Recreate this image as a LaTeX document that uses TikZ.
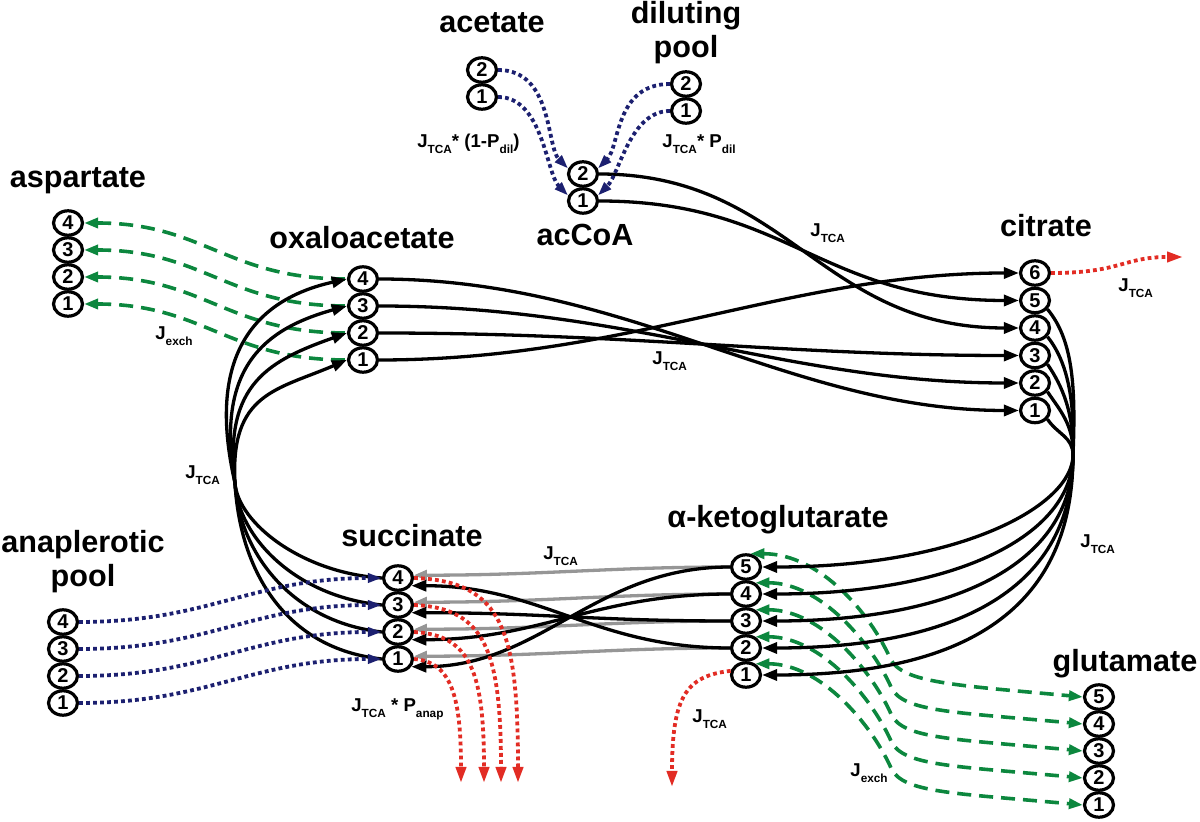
\documentclass[tikz,border=0pt]{standalone}
\usepackage{fontspec}
\setmainfont{Liberation Sans}
\usetikzlibrary{shapes.geometric,arrows.meta,calc}
\definecolor{cgrn}{RGB}{12,135,62}
\definecolor{cnvy}{RGB}{28,32,112}
\definecolor{crd}{RGB}{226,44,36}
\definecolor{cgry}{RGB}{150,150,150}
\newcommand{\lsub}[1]{\raisebox{-3pt}{\fontsize{5.9}{7}\selectfont #1}}
\begin{document}
\begin{tikzpicture}[x=0.5pt,y=-0.5pt,
  cn/.style={ellipse,draw,line width=1.6pt,minimum width=14.5pt,minimum height=12.2pt,inner sep=0pt,font=\fontsize{10}{10}\selectfont\bfseries},
  lbl/.style={font=\fontsize{15.3}{17}\selectfont\bfseries,inner sep=0pt,align=center},
  jl/.style={font=\fontsize{9.3}{11}\selectfont\bfseries,inner sep=0pt,anchor=base west},
  blk/.style={line width=1.65pt,-{Triangle[length=7.5pt,width=5.5pt]}},
  gryl/.style={line width=1.65pt,cgry,-{Triangle[length=6.5pt,width=5pt]}},
  grnb/.style={line width=1.8pt,cgrn,dash pattern=on 7pt off 4pt,{Triangle[length=7pt,width=5pt]}-{Triangle[length=7pt,width=5pt]}},
  grnl/.style={line width=1.8pt,cgrn,dash pattern=on 7pt off 4pt,{Triangle[length=7pt,width=5pt]}-},
  nvyl/.style={line width=1.9pt,cnvy,dash pattern=on 1.9pt off 1.6pt,-{Triangle[length=7pt,width=4.5pt]}},
  rdl/.style={line width=1.9pt,crd,dash pattern=on 1.9pt off 1.6pt,-{Triangle[length=8pt,width=5pt]}}
]
\useasboundingbox (0,0) rectangle (1200,822);

% ---------- carbon nodes ----------
\node[cn] (acet2) at (482,70) {2};
\node[cn] (acet1) at (482,97) {1};
\node[cn] (dil2) at (686,84) {2};
\node[cn] (dil1) at (686,111) {1};
\node[cn] (acc2) at (583,174) {2};
\node[cn] (acc1) at (583,201) {1};
\foreach \i/\y in {4/223,3/250,2/277,1/304} \node[cn] (asp\i) at (68,\y) {\i};
\foreach \i/\y in {4/279,3/306,2/333,1/360} \node[cn] (oaa\i) at (363,\y) {\i};
\foreach \i/\y in {6/273,5/300.5,4/328,3/355.5,2/383,1/410.5} \node[cn] (cit\i) at (1035,\y) {\i};
\foreach \i/\y in {4/578,3/605,2/632,1/659} \node[cn] (suc\i) at (398,\y) {\i};
\foreach \i/\y in {5/567,4/594,3/621,2/648,1/675} \node[cn] (akg\i) at (746,\y) {\i};
\foreach \i/\y in {5/697,4/724,3/751,2/778,1/805} \node[cn] (glu\i) at (1099,\y) {\i};
\foreach \i/\y in {4/622,3/649,2/676,1/703} \node[cn] (ana\i) at (63,\y) {\i};

% ---------- pool labels ----------
\node[lbl,anchor=base] (tAcet) at (492,33) {acetate};
\node[lbl] (tDil) at (686,33) {diluting\\pool};
\node[lbl,anchor=base] (tAcc) at (585,246) {acCoA};
\node[lbl,anchor=base] (tAsp) at (78,188) {aspartate};
\node[lbl,anchor=base] (tOaa) at (362,249) {oxaloacetate};
\node[lbl,anchor=base] (tCit) at (1046,237) {citrate};
\node[lbl,anchor=base] (tSuc) at (412,547) {succinate};
\node[lbl,anchor=base] (tAkg) at (778,528) {α-ketoglutarate};
\node[lbl,anchor=base] (tGlu) at (1125,672) {glutamate};
\node[lbl] (tAna) at (83,562) {anaplerotic\\pool};

% ---------- flux labels ----------
\node[jl] (j1) at (810,237) {J\lsub{TCA}};
\node[jl] (j2) at (652,365) {J\lsub{TCA}};
\node[jl] (j3) at (1118,292) {J\lsub{TCA}};
\node[jl] (j4) at (1080,548) {J\lsub{TCA}};
\node[jl] (j5) at (185,479) {J\lsub{TCA}};
\node[jl] (j6) at (543,560) {J\lsub{TCA}};
\node[jl] (j7) at (692,723) {J\lsub{TCA}};
\node[jl] (j8) at (850,777) {J\lsub{exch}};
\node[jl] (j9) at (155,340) {J\lsub{exch}};
\node[jl] (j10) at (417,148) {J\lsub{TCA}* (1-P\lsub{dil})};
\node[jl] (j11) at (662,148) {J\lsub{TCA}* P\lsub{dil}};
\node[jl] (j12) at (351,712) {J\lsub{TCA} * P\lsub{anap}};

% ---------- free ends ----------
\coordinate (R) at (1073,455);
\coordinate (L) at (235,483);
\coordinate (rc6) at (1183,257);
\coordinate (rs4) at (518,783);
\coordinate (rs3) at (501,783);
\coordinate (rs2) at (484,783);
\coordinate (rs1) at (461,783);
\coordinate (rk) at (672,787);

% ---------- exchange (green) ----------
\foreach \i in {4,3,2,1}
  \draw[grnl] (asp\i.east) .. controls +(120,0) and +(-120,0) .. (oaa\i.west);
\draw[grnb] (akg5.72) .. controls +(70,0) and +(-20,-45) .. ($(akg5.72)+(140,105)$)
   .. controls +(12,24) and +(-130,-12) .. (glu5.west);
\foreach \i in {4,3,2,1}
  \draw[grnb] (akg\i.50) .. controls +(65,0) and +(-20,-45) .. ($(akg\i.50)+(136,105)$)
   .. controls +(12,24) and +(-130,-12) .. (glu\i.west);

% ---------- alpha-KG -> succinate (grey) ----------
\draw[gryl] (akg5.west) .. controls +(-120,0) and +(130,0) .. (suc4.10);
\draw[gryl] (akg4.west) .. controls +(-120,0) and +(130,0) .. (suc3.10);
\draw[gryl] (akg3.west) .. controls +(-120,0) and +(130,0) .. (suc2.10);
\draw[gryl] (akg2.west) .. controls +(-120,0) and +(130,0) .. (suc1.10);

% ---------- black TCA fluxes ----------
\draw[blk] (acc2.east) .. controls +(190,0) and +(-200,0) .. (cit4.west);
\draw[blk] (acc1.east) .. controls +(190,0) and +(-200,0) .. (cit5.west);
\draw[blk] (oaa4.east) .. controls +(250,0) and +(-230,0) .. (cit1.west);
\draw[blk] (oaa3.east) .. controls +(250,0) and +(-230,0) .. (cit2.west);
\draw[blk] (oaa2.east) .. controls +(250,0) and +(-230,0) .. (cit3.west);
\draw[blk] (oaa1.east) .. controls +(250,0) and +(-230,0) .. (cit6.west);

\draw[blk] (cit5.-35) .. controls +(25,30) and +(3,-70) .. (R) .. controls +(0,50) and +(200,0) .. (akg5.east);
\draw[blk] (cit4.-35) .. controls +(20,25) and +(2,-55) .. (R) .. controls +(0,80) and +(195,0) .. (akg4.east);
\draw[blk] (cit3.-35) .. controls +(15,22) and +(1,-42) .. (R) .. controls +(0,110) and +(190,0) .. (akg3.east);
\draw[blk] (cit2.-35) .. controls +(12,18) and +(1,-30) .. (R) .. controls +(0,140) and +(185,0) .. (akg2.east);
\draw[blk] (cit1.-35) .. controls +(10,15) and +(0,-18) .. (R) .. controls +(0,170) and +(180,0) .. (akg1.east);

\draw[blk] (akg5.west) .. controls +(-135,0) and +(130,0) .. (suc1.-30);
\draw[blk] (akg4.west) .. controls +(-135,0) and +(130,0) .. (suc2.-30);
\draw[blk] (akg3.west) .. controls +(-135,0) and +(130,0) .. (suc3.-30);
\draw[blk] (akg2.west) .. controls +(-135,0) and +(130,0) .. (suc4.-30);

\draw[blk] (suc4.west) .. controls +(-80,-5) and +(3,40) .. (L) .. controls +(-30,-130) and +(-90,20) .. (oaa4.west);
\draw[blk] (suc3.west) .. controls +(-85,-8) and +(3,55) .. (L) .. controls +(-20,-115) and +(-83,23) .. (oaa3.west);
\draw[blk] (suc2.west) .. controls +(-90,-10) and +(4,70) .. (L) .. controls +(-12,-100) and +(-76,27) .. (oaa2.west);
\draw[blk] (suc1.west) .. controls +(-95,-10) and +(5,90) .. (L) .. controls +(-5,-90) and +(-70,30) .. (oaa1.west);

% ---------- inflows (navy) ----------
\draw[nvyl] (acet2.east) .. controls +(55,0) and +(-22,-22) .. (acc2.160);
\draw[nvyl] (acet1.east) .. controls +(45,0) and +(-22,-22) .. (acc1.160);
\draw[nvyl] (dil2.west) .. controls +(-55,0) and +(22,-22) .. (acc2.20);
\draw[nvyl] (dil1.west) .. controls +(-40,0) and +(22,-22) .. (acc1.20);
\foreach \i in {4,3,2,1}
  \draw[nvyl] (ana\i.east) .. controls +(130,0) and +(-130,0) .. (suc\i.west);

% ---------- outflows (red) ----------
\draw[rdl] (cit6.east) .. controls +(70,0) and +(-60,0) .. (rc6);
\draw[rdl] (suc4.east) .. controls +(90,3) and +(0,-150) .. (rs4);
\draw[rdl] (suc3.east) .. controls +(72,3) and +(0,-130) .. (rs3);
\draw[rdl] (suc2.east) .. controls +(57,3) and +(0,-110) .. (rs2);
\draw[rdl] (suc1.east) .. controls +(38,3) and +(0,-85) .. (rs1);
\draw[rdl] (akg1.165) .. controls +(-45,5) and +(0,-90) .. (rk);
\end{tikzpicture}
\end{document}
